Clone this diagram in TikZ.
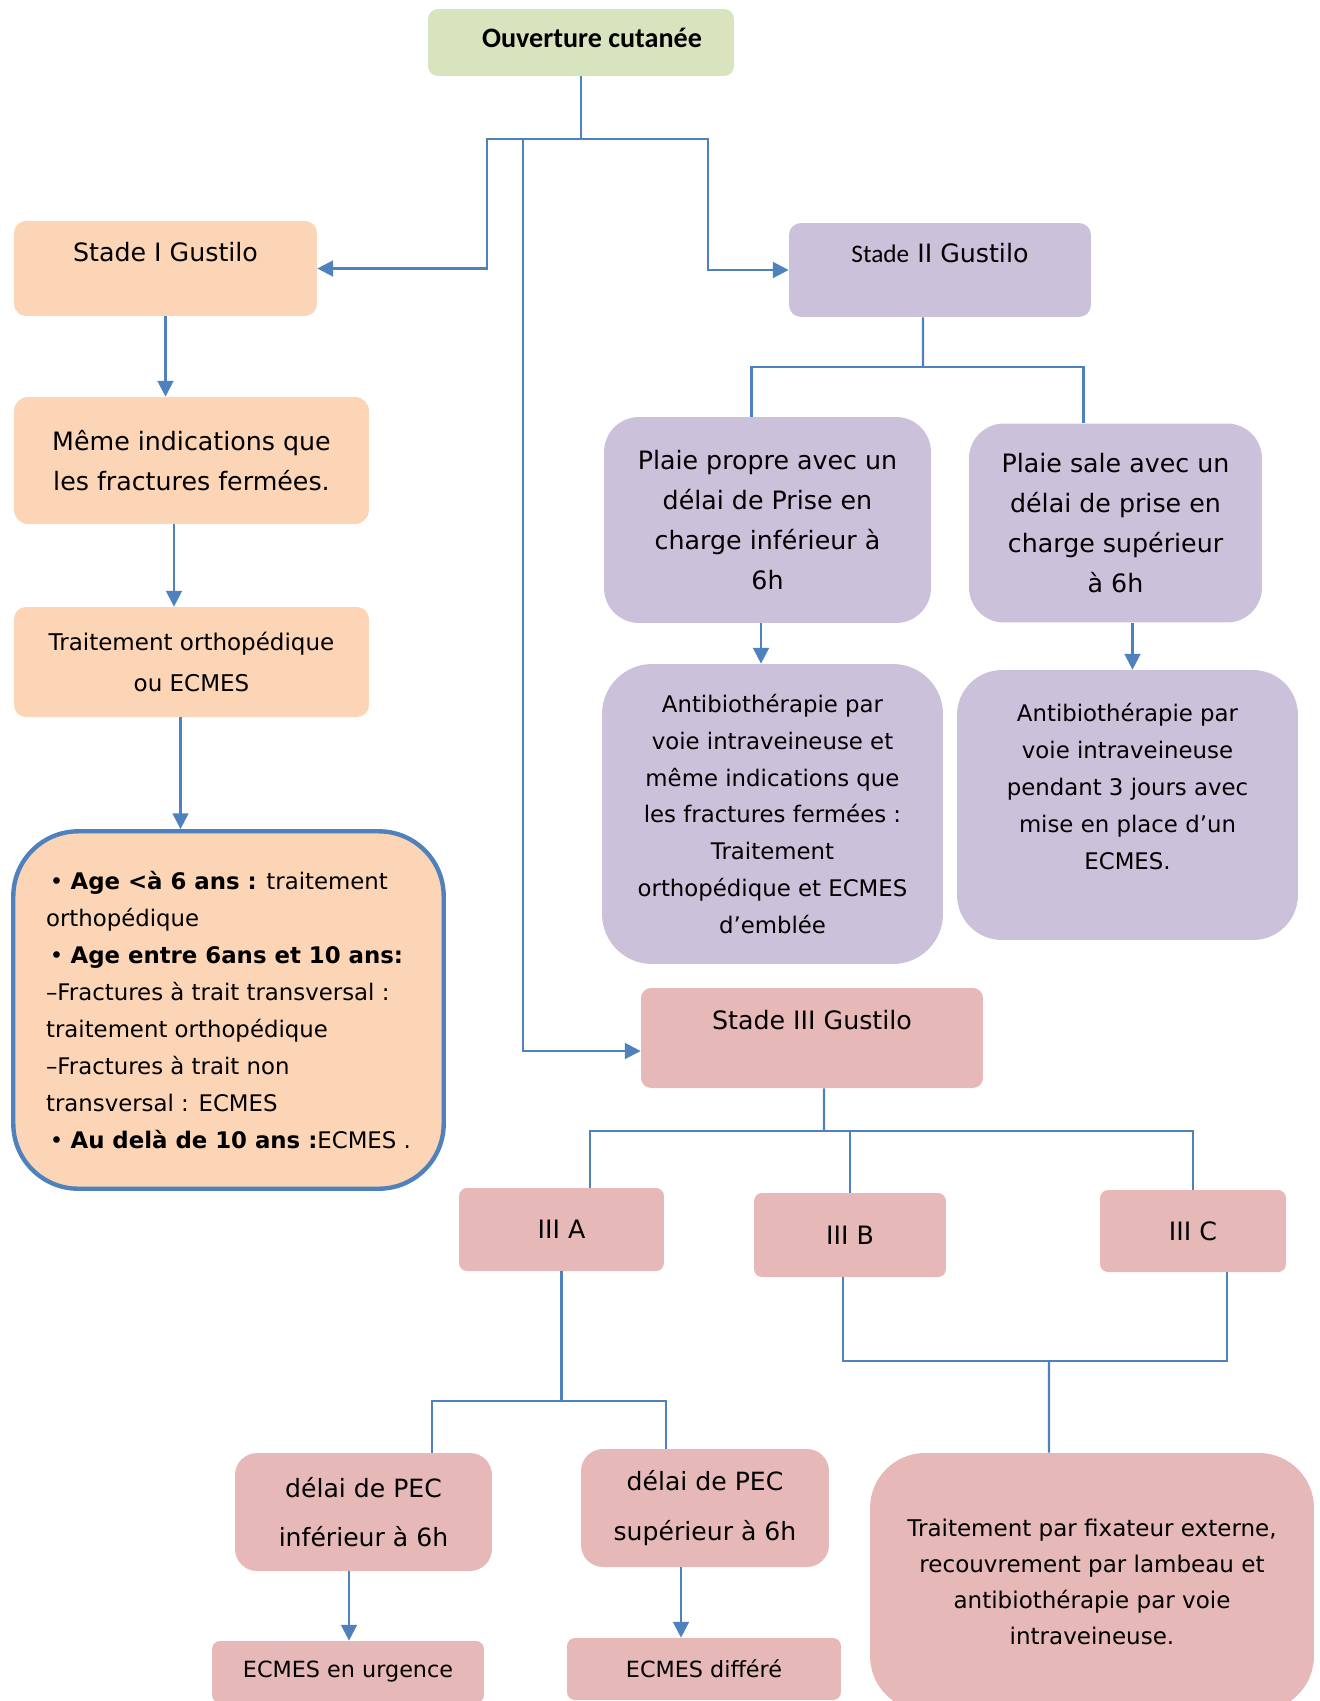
\documentclass[tikz,border=0pt]{standalone}
\usepackage{fontspec}
\setmainfont{DejaVu Sans}
\newfontfamily\carlito{Carlito}
\usetikzlibrary{arrows.meta}
\definecolor{vert}{RGB}{215,228,189}
\definecolor{peche}{RGB}{251,213,181}
\definecolor{mauve}{RGB}{204,193,218}
\definecolor{rose}{RGB}{230,185,184}
\definecolor{bleu}{RGB}{79,129,189}
\tikzset{
  case/.style={rounded corners=#1, inner sep=1pt, align=center},
  case/.default=0.24cm,
  lien/.style={draw=bleu, line width=1.3pt},
  fleche/.style={lien, -{Triangle[length=9pt,width=9pt]}},
  gros/.style={font=\fontsize{14.4}{22.7}\selectfont},
  moyen/.style={font=\fontsize{13}{21}\selectfont},
}

\begin{document}
\begin{tikzpicture}[x=0.02cm, y=-0.02cm]
  \useasboundingbox (0,0) rectangle (1319,1701);
  \clip (0,0) rectangle (1319,1701);

  % Noeuds
  \node[case=0.2cm, fill=vert, minimum width=6.12cm, minimum height=1.34cm, text height=11pt, text depth=5pt,
        font=\carlito\bfseries\fontsize{16}{19}\selectfont] (ouv) at (581,42.5) {\hspace*{0.44cm}Ouverture cutanée};

  \node[case, fill=peche, gros, text height=11pt, text depth=19.5pt,
        minimum width=6.06cm, minimum height=1.9cm] (s1) at (165.5,268.5) {Stade I Gustilo};
  \node[case=0.28cm, fill=peche, gros, minimum width=7.1cm, minimum height=2.54cm]
    (meme) at (191.5,460.5) {Même indications que\\les fractures fermées.};
  \node[case, fill=peche, font=\fontsize{13.1}{23.8}\selectfont,
        minimum width=7.1cm, minimum height=2.2cm] (ortho) at (191.5,662) {Traitement orthopédique\\ou ECMES};
  \node[case=1.3cm, fill=peche, draw=bleu, line width=2.5pt, moyen, align=left,
        minimum width=8.61cm, minimum height=7.15cm] (age) at (228.5,1010) {%
    \,• \textbf{Age <à 6 ans :} traitement\\
    orthopédique\\
    \,• \textbf{Age entre 6ans et 10 ans:}\\
    –Fractures à trait transversal :\\
    traitement orthopédique\\
    –Fractures à trait non\\
    transversal : ECMES\\
    \,• \textbf{Au delà de 10 ans :}ECMES .};

  \node[case, fill=mauve, gros, text height=11pt, text depth=19pt,
        minimum width=6.04cm, minimum height=1.88cm] (s2) at (940,270) {{\carlito Stade} II Gustilo};
  \node[case=0.7cm, fill=mauve, gros, minimum width=6.54cm, minimum height=4.12cm]
    (pp) at (767.5,520) {Plaie propre avec un\\délai de Prise en\\charge inférieur à\\6h};
  \node[case=0.7cm, fill=mauve, gros, minimum width=5.86cm, minimum height=3.98cm]
    (ps) at (1115.5,523) {Plaie sale avec un\\délai de prise en\\charge supérieur\\à 6h};
  \node[case=1cm, fill=mauve, moyen, minimum width=6.82cm, minimum height=6cm]
    (ab1) at (772.5,814) {Antibiothérapie par\\voie intraveineuse et\\même indications que\\les fractures fermées :\\Traitement\\orthopédique et ECMES\\d’emblée};
  \node[case=0.9cm, fill=mauve, moyen, minimum width=6.82cm, minimum height=5.4cm]
    (ab2) at (1127.5,805) {Antibiothérapie par\\voie intraveineuse\\pendant 3 jours avec\\mise en place d’un\\ECMES.\\ \mbox{}};

  \node[case=0.2cm, fill=rose, gros, text height=11pt, text depth=21pt,
        minimum width=6.84cm, minimum height=2cm] (s3) at (812,1038) {Stade III Gustilo};
  \node[case=0.16cm, fill=rose, gros, minimum width=4.1cm, minimum height=1.66cm] (s3a) at (561.5,1229.5) {III A};
  \node[case=0.16cm, fill=rose, gros, minimum width=3.84cm, minimum height=1.68cm] (s3b) at (850,1235) {III B};
  \node[case=0.16cm, fill=rose, gros, minimum width=3.72cm, minimum height=1.64cm] (s3c) at (1193,1231) {III C};
  \node[case=0.44cm, fill=rose, font=\fontsize{14.3}{28.3}\selectfont,
        minimum width=5.14cm, minimum height=2.36cm] (d1) at (363.5,1512) {délai de PEC\\inférieur à 6h};
  \node[case=0.44cm, fill=rose, font=\fontsize{14.3}{28.3}\selectfont,
        minimum width=4.96cm, minimum height=2.36cm] (d2) at (705,1508) {délai de PEC\\supérieur à 6h};
  \node[case=0.16cm, fill=rose, font=\fontsize{12.7}{15}\selectfont,
        minimum width=5.44cm, minimum height=1.24cm] (e1) at (348,1672) {ECMES en urgence};
  \node[case=0.16cm, fill=rose, font=\fontsize{12.7}{15}\selectfont,
        minimum width=5.48cm, minimum height=1.24cm] (e2) at (704,1669) {ECMES différé};
  \node[case=1.1cm, fill=rose, font=\fontsize{13.1}{20.4}\selectfont,
        minimum width=8.88cm, minimum height=5.16cm] (fix) at (1092,1582)
    {Traitement par fixateur externe,\\recouvrement par lambeau et\\antibiothérapie par voie\\intraveineuse.};

  % Liens
  \coordinate (gauche) at (487,139);
  \coordinate (milieu) at (523,139);
  \coordinate (droite) at (708,139);
  \draw[fleche] (ouv.south) |- (gauche) |- (s1.east);
  \draw[fleche] (ouv.south) |- (droite) |- (s2.west);
  \draw[fleche] (milieu) |- ([yshift=-0.26cm]s3.west);

  \draw[fleche] (s1.south) -- (s1.south |- meme.north);
  \draw[fleche] ([xshift=-0.35cm]meme.south) -- ([xshift=-0.35cm]meme.south |- ortho.north);
  \draw[fleche] ([xshift=-0.22cm]ortho.south) -- ([xshift=-0.22cm]ortho.south |- age.north);

  \coordinate (jII) at (923,367);
  \draw[lien] ([xshift=-0.34cm]s2.south) -- (jII);
  \draw[lien] (jII) -| ([xshift=-0.32cm]pp.north);
  \draw[lien] (jII) -| ([xshift=-0.64cm]ps.north);
  \draw[fleche] ([xshift=-0.13cm]pp.south) -- ([xshift=-0.13cm]pp.south |- ab1.north);
  \draw[fleche] ([xshift=0.34cm]ps.south) -- ([xshift=0.34cm]ps.south |- ab2.north);

  \coordinate (jIII) at (824,1131);
  \draw[lien] ([xshift=0.24cm]s3.south) -- (jIII);
  \draw[lien] (jIII) -| ([xshift=0.57cm]s3a.north);
  \draw[lien] (jIII) -| (s3c.north);
  \draw[lien] (s3b.north) -- (s3b.north |- jIII);

  \coordinate (jA) at (561.5,1401);
  \draw[lien] (s3a.south) -- (jA);
  \draw[lien] (jA) -| ([xshift=1.37cm]d1.north);
  \draw[lien] (jA) -| ([xshift=-0.78cm]d2.north);
  \draw[fleche] ([xshift=-0.29cm]d1.south) -- ([xshift=-0.29cm]d1.south |- e1.north);
  \draw[fleche] ([xshift=-0.48cm]d2.south) -- ([xshift=-0.48cm]d2.south |- e2.north);

  \coordinate (jBC) at (1049,1361);
  \draw[lien] ([xshift=-0.14cm]s3b.south) |- (jBC) -| ([xshift=0.68cm]s3c.south);
  \draw[lien] (jBC) -- ([xshift=-0.86cm]fix.north);
\end{tikzpicture}
\end{document}
